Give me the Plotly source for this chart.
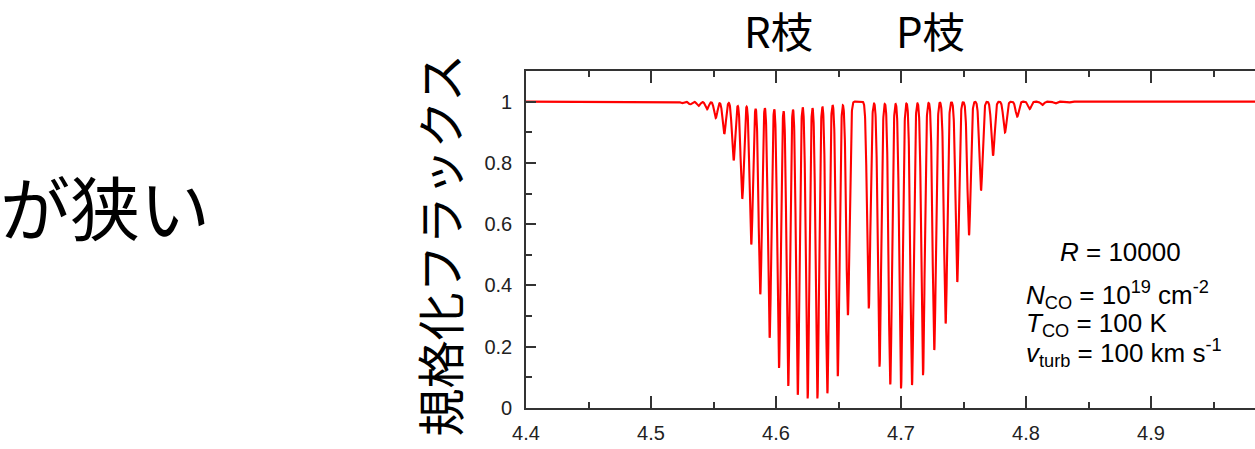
import numpy as np
import plotly.graph_objects as go

# ---- data ----
# R-branch line centres (micron) and normalized flux at line centre
r_center = [4.5122, 4.5186, 4.5250, 4.5314, 4.5381, 4.5448, 4.5518, 4.5586, 4.5661,
            4.5730, 4.5802, 4.5874, 4.5949, 4.6024, 4.6098, 4.6174, 4.6253, 4.6331,
            4.6411, 4.6494, 4.6575]
r_flux = [0.999, 0.998, 0.995, 0.991, 0.986, 0.975, 0.947, 0.895, 0.808,
          0.683, 0.534, 0.371, 0.229, 0.131, 0.072, 0.043, 0.031, 0.031,
          0.048, 0.104, 0.303]
# P-branch line centres (micron) and normalized flux at line centre
p_center = [4.6742, 4.6828, 4.6914, 4.7000, 4.7088, 4.7176, 4.7266, 4.7357, 4.7450,
            4.7544, 4.7640, 4.7736, 4.7832, 4.7930, 4.8029, 4.8130, 4.8234, 4.8341,
            4.8448, 4.8556]
p_flux = [0.325, 0.135, 0.077, 0.064, 0.075, 0.107, 0.189, 0.276, 0.411,
          0.564, 0.710, 0.824, 0.900, 0.951, 0.976, 0.989, 0.994, 0.997,
          0.998, 0.999]
line_sigma = 0.0013  # micron, instrumental line width

x_ticks = [4.4, 4.5, 4.6, 4.7, 4.8, 4.9]
x_labels = ["4.4", "4.5", "4.6", "4.7", "4.8", "4.9"]
y_ticks = [0, 0.2, 0.4, 0.6, 0.8, 1.0]
y_labels = ["0", "0.2", "0.4", "0.6", "0.8", "1"]

# ---- build spectrum from the line list ----
wl = np.linspace(4.4, 5.0, 6001)
flux = np.ones_like(wl)
for c, f in zip(r_center + p_center, r_flux + p_flux):
    flux *= 1.0 - (1.0 - f) * np.exp(-0.5 * ((wl - c) / line_sigma) ** 2)

W, H = 1255, 449
L, R_, T, B = 526, 0, 71, 41
pw, ph = W - L - R_, H - T - B
x_max = 4.4 + pw / 1250.0


def px(x):
    return (x - L) / pw


def py(y):
    return (H - B - y) / ph


fig = go.Figure()
fig.add_trace(go.Scatter(x=wl, y=flux, mode="lines",
                         line=dict(color="#ff0000", width=2.1),
                         hoverinfo="skip", showlegend=False))

axis_col = "#333333"
tick_font = dict(family="Liberation Sans, Arial, sans-serif", size=20, color="#222222")
fig.update_xaxes(range=[4.4, x_max], tickmode="array", tickvals=x_ticks, ticktext=x_labels,
                 ticks="inside", ticklen=12, tickwidth=1.6, tickcolor=axis_col,
                 showline=True, linecolor=axis_col, linewidth=1.6, mirror="ticks",
                 showgrid=False, zeroline=False, tickfont=tick_font, ticklabelstandoff=6,
                 minor=dict(dtick=0.05, tick0=4.4, ticks="inside", ticklen=6,
                            tickwidth=1.6, tickcolor=axis_col, showgrid=False))
fig.update_yaxes(range=[0, 1.1], tickmode="array", tickvals=y_ticks, ticktext=y_labels,
                 ticks="inside", ticklen=10, tickwidth=1.6, tickcolor=axis_col,
                 showline=True, linecolor=axis_col, linewidth=1.6, mirror=False,
                 showgrid=False, zeroline=False, tickfont=tick_font, ticklabelstandoff=8,
                 minor=dict(dtick=0.1, tick0=0, ticks="inside", ticklen=6,
                            tickwidth=1.6, tickcolor=axis_col, showgrid=False))

jp = "Noto Sans CJK JP"
ann = []
ann.append(dict(text="規格化フラックス", x=px(437.5), y=py(245), xref="paper", yref="paper",
                showarrow=False, textangle=-90, xanchor="center", yanchor="middle",
                font=dict(family=jp, size=48, color="#000000")))
ann.append(dict(text="R枝", x=px(778), y=py(30), xref="paper", yref="paper",
                showarrow=False, xanchor="center", yanchor="middle",
                font=dict(family=jp, size=42, color="#000000")))
ann.append(dict(text="P枝", x=px(930), y=py(30), xref="paper", yref="paper",
                showarrow=False, xanchor="center", yanchor="middle",
                font=dict(family=jp, size=42, color="#000000")))
ann.append(dict(text="が狭い", x=px(212), y=py(205), xref="paper", yref="paper",
                showarrow=False, xanchor="right", yanchor="middle",
                font=dict(family=jp, size=70, color="#000000")))

lf = dict(family="Liberation Sans, Arial, sans-serif", size=26, color="#000000")
ann.append(dict(text="<i>R</i> = 10000", x=px(1120), y=py(252), xref="paper", yref="paper",
                showarrow=False, xanchor="center", yanchor="middle", font=lf))
ann.append(dict(text="<i>N</i><sub>CO</sub> = 10<sup>19</sup> cm<sup>-2</sup>",
                x=px(1024), y=py(295), xref="paper", yref="paper",
                showarrow=False, xanchor="left", yanchor="middle", font=lf))
ann.append(dict(text="<i>T</i><sub>CO</sub> = 100 K",
                x=px(1024), y=py(324), xref="paper", yref="paper",
                showarrow=False, xanchor="left", yanchor="middle", font=lf))
ann.append(dict(text="<i>v</i><sub>turb</sub> = 100 km s<sup>-1</sup>",
                x=px(1024), y=py(353), xref="paper", yref="paper",
                showarrow=False, xanchor="left", yanchor="middle", font=lf))

fig.update_layout(width=W, height=H, margin=dict(l=L, r=R_, t=T, b=B, pad=0),
                  paper_bgcolor="white", plot_bgcolor="white",
                  annotations=ann, showlegend=False)

fig.write_html("out.html", config={"displayModeBar": False})
